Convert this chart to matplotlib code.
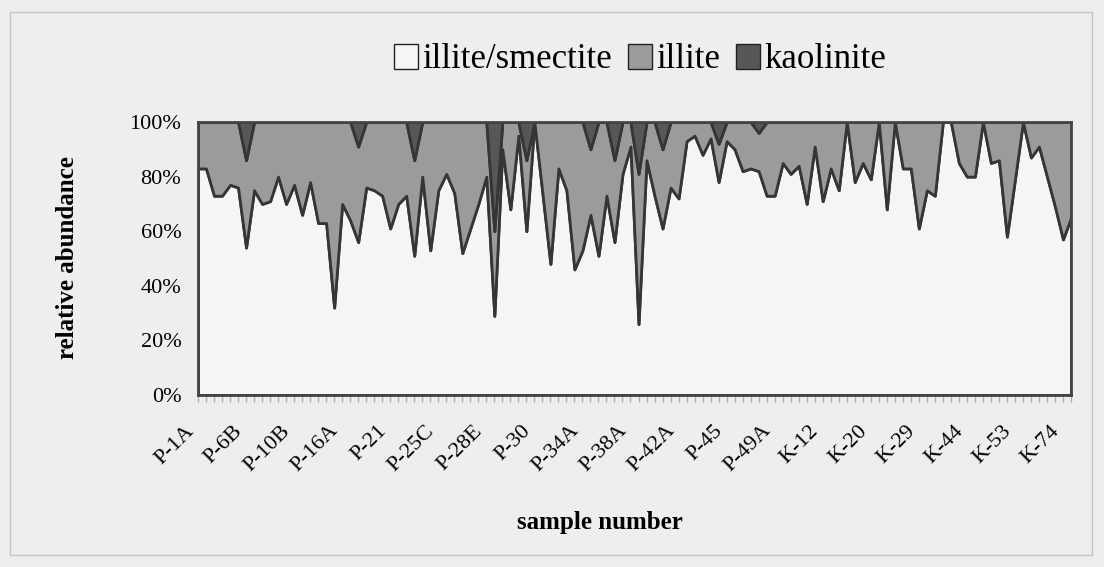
import numpy as np
import matplotlib.pyplot as plt
from matplotlib.patches import Patch, Rectangle

# clay mineral abundance per sample (%), in sample order
illite_smectite = [83, 83, 73, 73, 77, 76, 54, 75, 70, 71,
                   80, 70, 77, 66, 78, 63, 63, 32, 70, 64,
                   56, 76, 75, 73, 61, 70, 73, 51, 80, 53,
                   75, 81, 74, 52, 61, 70, 80, 29, 90, 68,
                   95, 60, 100, 74, 48, 83, 75, 46, 53, 66,
                   51, 73, 56, 81, 91, 26, 86, 73, 61, 76,
                   72, 93, 95, 88, 94, 78, 93, 90, 82, 83,
                   82, 73, 73, 85, 81, 84, 70, 91, 71, 83,
                   75, 100, 78, 85, 79, 100, 68, 100, 83, 83,
                   61, 75, 73, 100, 100, 85, 80, 80, 100, 85,
                   86, 58, 79, 100, 87, 91, 80, 69, 57, 65]
illite = [17, 17, 27, 27, 23, 24, 32, 25, 30, 29,
          20, 30, 23, 34, 22, 37, 37, 68, 30, 36,
          35, 24, 25, 27, 39, 30, 27, 35, 20, 47,
          25, 19, 26, 48, 39, 30, 20, 31, 10, 32,
          5, 26, 0, 26, 52, 17, 25, 54, 47, 24,
          49, 27, 30, 19, 9, 55, 14, 27, 29, 24,
          28, 7, 5, 12, 6, 14, 7, 10, 18, 17,
          14, 27, 27, 15, 19, 16, 30, 9, 29, 17,
          25, 0, 22, 15, 21, 0, 32, 0, 17, 17,
          39, 25, 27, 0, 0, 15, 20, 20, 0, 15,
          14, 42, 21, 0, 13, 9, 20, 31, 43, 35]
kaolinite = [0, 0, 0, 0, 0, 0, 14, 0, 0, 0,
             0, 0, 0, 0, 0, 0, 0, 0, 0, 0,
             9, 0, 0, 0, 0, 0, 0, 14, 0, 0,
             0, 0, 0, 0, 0, 0, 0, 40, 0, 0,
             0, 14, 0, 0, 0, 0, 0, 0, 0, 10,
             0, 0, 14, 0, 0, 19, 0, 0, 10, 0,
             0, 0, 0, 0, 0, 8, 0, 0, 0, 0,
             4, 0, 0, 0, 0, 0, 0, 0, 0, 0,
             0, 0, 0, 0, 0, 0, 0, 0, 0, 0,
             0, 0, 0, 0, 0, 0, 0, 0, 0, 0,
             0, 0, 0, 0, 0, 0, 0, 0, 0, 0]

series_names = ['illite/smectite', 'illite', 'kaolinite']
tick_labels = ['P-1A', 'P-6B', 'P-10B', 'P-16A', 'P-21', 'P-25C', 'P-28E',
               'P-30', 'P-34A', 'P-38A', 'P-42A', 'P-45', 'P-49A', 'K-12',
               'K-20', 'K-29', 'K-44', 'K-53', 'K-74']
label_step = 6

colors = ['#f5f5f5', '#9b9b9b', '#575757']
edge = '#353535'

plt.rcParams['font.family'] = ['Liberation Serif', 'DejaVu Serif']

W, H = 1104, 567
fig = plt.figure(figsize=(W / 100, H / 100), dpi=100, facecolor='#eeeeee')

# thin outline of the chart area
fig.patches.append(Rectangle((10 / W, 12 / H), 1082 / W, 543 / H,
                             transform=fig.transFigure, fill=False,
                             edgecolor='#c4c4c4', linewidth=1))

ax = fig.add_axes([198 / W, 1 - 395 / H, 873 / W, 273 / H])
ax.set_facecolor('#f4f4f4')

x = np.arange(len(illite_smectite))
ax.stackplot(x, illite_smectite, illite, kaolinite, colors=colors,
             edgecolor=edge, linewidth=2)

ax.set_xlim(0, len(x) - 1)
ax.set_ylim(0, 100)

labels = [tick_labels[i // label_step] if i % label_step == 0 else ''
          for i in x]
ax.set_xticks(x)
ax.set_xticklabels(labels, rotation=45, ha='right', va='top', fontsize=16)
ax.tick_params(axis='x', direction='out', length=5, width=1,
               color='#b0b0b0', pad=14)

ax.set_yticks(range(0, 101, 20))
ax.set_yticklabels(['%d%%' % v for v in range(0, 101, 20)], fontsize=16)
ax.tick_params(axis='y', length=0, pad=12)

for sp in ax.spines.values():
    sp.set_color('#444444')
    sp.set_linewidth(2)

fig.text(68 / W, 1 - 258 / H, 'relative abundance', rotation=90,
         ha='center', va='center', fontsize=18, fontweight='bold')
fig.text(600 / W, 1 - 523 / H, 'sample number', ha='center', va='center',
         fontsize=18, fontweight='bold')

handles = [Patch(facecolor=c, edgecolor='#222222', linewidth=1)
           for c in colors]
fig.legend(handles, series_names, loc='center', ncol=3,
           bbox_to_anchor=(640 / W, 1 - 60 / H), frameon=False,
           fontsize=25, handlelength=0.7, handleheight=0.7,
           handletextpad=0.12, columnspacing=0.45)

fig.savefig('out.png', dpi=100, facecolor=fig.get_facecolor())
